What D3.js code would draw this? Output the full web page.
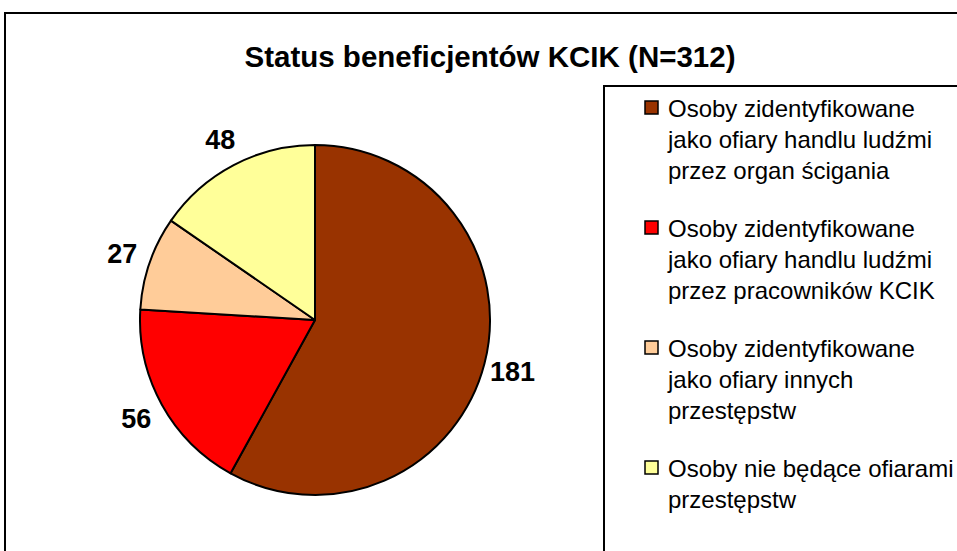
<!DOCTYPE html>
<html>
<head>
<meta charset="utf-8">
<script src="https://cdn.jsdelivr.net/npm/d3@7"></script>
<style>
  body { margin: 0; background: #fff; }
  svg { display: block; font-family: "Liberation Sans", Arial, sans-serif; }
</style>
</head>
<body>
<svg id="svg"></svg>
<script>
const width = 957, height = 551;

const title = "Status beneficjentów KCIK (N=312)";
const categories = [
    ["Osoby zidentyfikowane", "jako ofiary handlu ludźmi", "przez organ ścigania"],
    ["Osoby zidentyfikowane", "jako ofiary handlu ludźmi", "przez pracowników KCIK"],
    ["Osoby zidentyfikowane", "jako ofiary innych", "przestępstw"],
    ["Osoby nie będące ofiarami", "przestępstw"]
];
const values = [181, 56, 27, 48];
const colors = ["#993300", "#ff0000", "#ffcc99", "#ffff99"];

const svg = d3.select("#svg").attr("width", width).attr("height", height);

// chart frame (runs off the right/bottom edge like the source)
svg.append("rect")
    .attr("x", 5).attr("y", 13)
    .attr("width", 1000).attr("height", 1000)
    .attr("fill", "#fff").attr("stroke", "#000").attr("stroke-width", 2);

svg.append("text")
    .attr("x", 490).attr("y", 67)
    .attr("text-anchor", "middle")
    .style("font-size", "29.5px").style("font-weight", "bold")
    .text(title);

// pie
const cx = 315, cy = 320, r = 175;
const pie = d3.pie().sort(null).value(d => d);
const arcs = pie(values);
const arc = d3.arc().innerRadius(0).outerRadius(r);
const labelArc = d3.arc().innerRadius(204).outerRadius(204);

const g = svg.append("g").attr("transform", `translate(${cx},${cy})`);

g.selectAll("path")
    .data(arcs)
    .enter()
    .append("path")
    .attr("d", arc)
    .attr("fill", (d, i) => colors[i])
    .attr("stroke", "#000")
    .attr("stroke-width", 2)
    .attr("stroke-linejoin", "round");

g.selectAll("text.lbl")
    .data(arcs)
    .enter()
    .append("text")
    .attr("class", "lbl")
    .attr("transform", d => `translate(${labelArc.centroid(d)})`)
    .attr("text-anchor", "middle")
    .attr("dy", "0.36em")
    .style("font-size", "27px").style("font-weight", "bold")
    .text(d => d.value);

// legend
svg.append("rect")
    .attr("x", 604).attr("y", 86)
    .attr("width", 1000).attr("height", 1000)
    .attr("fill", "#fff").attr("stroke", "#000").attr("stroke-width", 2);

const lineH = 31, itemGap = 27;
let y = 108;
categories.forEach((lines, i) => {
    const item = svg.append("g");
    item.append("rect")
        .attr("x", 645).attr("y", y - 7)
        .attr("width", 13).attr("height", 13)
        .attr("fill", colors[i]).attr("stroke", "#000").attr("stroke-width", 1.5);
    lines.forEach((t, j) => {
        item.append("text")
            .attr("x", 668).attr("y", y + j * lineH)
            .attr("dy", "0.36em")
            .style("font-size", "24px")
            .text(t);
    });
    y += lines.length * lineH + itemGap;
});
</script>
</body>
</html>
